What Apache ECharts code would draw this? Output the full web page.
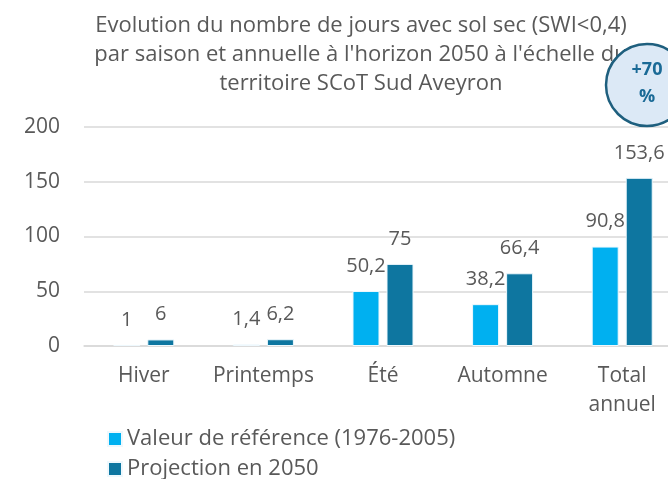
<!DOCTYPE html>
<html><head><meta charset="utf-8">
<script src="https://cdn.jsdelivr.net/npm/echarts@6/dist/echarts.min.js"></script>
<style>html,body{margin:0;padding:0;background:#fff}#c{width:668px;height:479px}</style>
</head><body><div id="c"></div>
<script>
const categories = ['Hiver', 'Printemps', 'Été', 'Automne', 'Total\nannuel'];
const refValues = [1, 1.4, 50.2, 38.2, 90.8];
const projValues = [6, 6.2, 75, 66.4, 153.6];
const seriesNames = ['Valeur de référence (1976-2005)', 'Projection en 2050'];
const titleText = 'Evolution du nombre de jours avec sol sec (SWI<0,4)\npar saison et annuelle à l\'horizon 2050 à l\'échelle du\nterritoire SCoT Sud Aveyron';
const badgeText = ['+70', '%'];

const FONT = '"Open Sans", sans-serif';
const GREY = '#595959';
const chart = echarts.init(document.getElementById('c'));
const fmt = p => String(p.value).replace('.', ',');
const legendText = { fontFamily: FONT, fontSize: 22, color: GREY };
chart.setOption({
  animation: false,
  textStyle: { fontFamily: FONT },
  title: {
    text: titleText, left: 356, top: 6, textAlign: 'center',
    textStyle: { fontFamily: FONT, fontSize: 22, fontWeight: 'normal', color: GREY, lineHeight: 29 }
  },
  legend: [
    { data: [seriesNames[0]], left: 102, top: 423, itemWidth: 14, itemHeight: 14, icon: 'rect', itemGap: 6, textStyle: legendText },
    { data: [seriesNames[1]], left: 102, top: 453, itemWidth: 14, itemHeight: 14, icon: 'rect', itemGap: 6, textStyle: legendText }
  ],
  grid: { left: 84, top: 127, width: 598, height: 219, outerBoundsMode: 'none', containLabel: false },
  xAxis: {
    type: 'category', data: categories,
    axisLine: { lineStyle: { color: '#d9d9d9', width: 1.5 } },
    axisTick: { show: false },
    axisLabel: { interval: 0, hideOverlap: false, fontFamily: FONT, fontSize: 21, color: GREY, margin: 16, lineHeight: 29 }
  },
  yAxis: {
    type: 'value', min: 0, max: 200, interval: 50,
    axisLine: { show: false }, axisTick: { show: false },
    splitLine: { lineStyle: { color: '#d9d9d9', width: 1.5 } },
    axisLabel: { fontFamily: FONT, fontSize: 21, color: GREY, margin: 24 }
  },
  series: [
    {
      name: seriesNames[0], type: 'bar', data: refValues, barWidth: 27, barGap: '26%',
      itemStyle: { color: '#00b0f0', borderColor: '#eef8fd', borderWidth: 1 },
      label: { show: true, position: 'top', distance: 15, formatter: fmt, fontFamily: FONT, fontSize: 20, color: GREY }
    },
    {
      name: seriesNames[1], type: 'bar', data: projValues, barWidth: 27,
      itemStyle: { color: '#0e76a0', borderColor: '#eef8fd', borderWidth: 1 },
      label: { show: true, position: 'top', distance: 15, formatter: fmt, fontFamily: FONT, fontSize: 20, color: GREY }
    }
  ],
  graphic: [
    { type: 'circle', shape: { cx: 647, cy: 85, r: 41 }, style: { fill: '#dce9f6', stroke: '#1e5f7e', lineWidth: 2.5 }, z: 100 },
    { type: 'text', x: 647, y: 70, style: { text: badgeText[0], font: 'bold 18px ' + FONT, fill: '#1a6a96', align: 'center', verticalAlign: 'middle' }, z: 101 },
    { type: 'text', x: 647, y: 97, style: { text: badgeText[1], font: 'bold 18px ' + FONT, fill: '#1a6a96', align: 'center', verticalAlign: 'middle' }, z: 101 }
  ]
});
</script></body></html>
